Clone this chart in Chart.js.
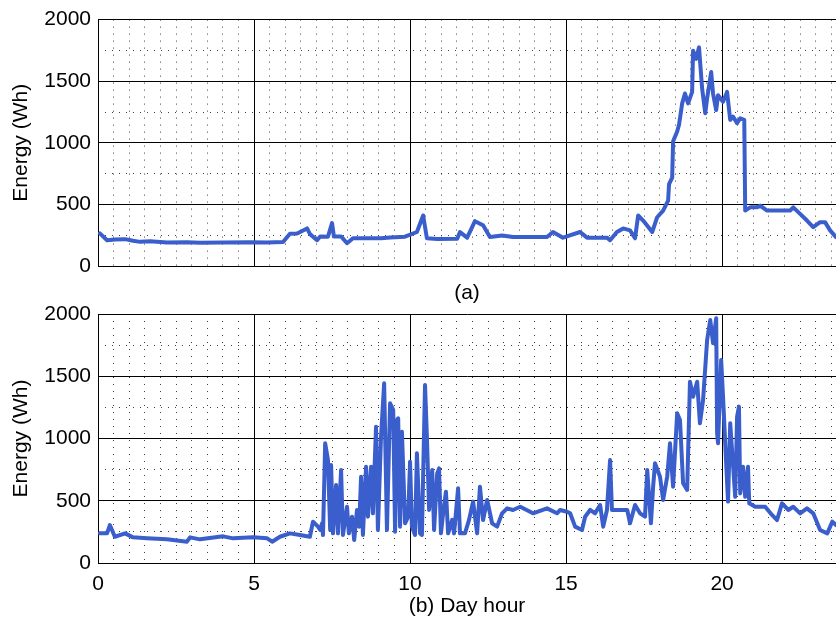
<!DOCTYPE html>
<html>
<head>
<meta charset="UTF-8">
<title>Energy per day hour</title>
<script src="https://cdn.jsdelivr.net/npm/chart.js@4.4.1/dist/chart.umd.min.js"></script>
<style>
  body { margin: 0; background: #fff; }
  #wrap { position: relative; width: 836px; height: 624px; overflow: hidden; }
  #wrap canvas { position: absolute; left: 0; }
</style>
</head>
<body>
<div id="wrap">
  <canvas id="chartA" width="836" height="310" style="top:0"></canvas>
  <canvas id="chartB" width="836" height="334" style="top:290px"></canvas>
</div>
<script>
// (a) hour of day / energy in Wh
var hoursA = [0.06, 0.29, 0.54, 0.87, 1.12, 1.35, 1.67, 2.21, 2.85, 3.27, 4.01, 4.87, 5.42, 5.93,
  6.15, 6.38, 6.70, 6.79, 7.02, 7.12, 7.37, 7.50, 7.56, 7.79, 7.98, 8.17, 9.07, 9.36, 9.84,
  10.22, 10.42, 10.54, 10.87, 11.51, 11.60, 11.83, 12.08, 12.34, 12.56, 12.95, 13.30, 14.39,
  14.58, 14.90, 15.45, 15.67, 16.31, 16.41, 16.63, 16.83, 17.05, 17.21, 17.31, 17.47, 17.76,
  17.92, 18.11, 18.27, 18.30, 18.40, 18.43, 18.56, 18.62, 18.72, 18.81, 18.91, 19.04, 19.07,
  19.17, 19.26, 19.36, 19.46, 19.52, 19.65, 19.71, 19.81, 19.87, 20.03, 20.16, 20.26, 20.35,
  20.48, 20.58, 20.71, 20.74, 20.90, 21.12, 21.22, 21.44, 22.18, 22.28, 22.50, 22.72, 22.92,
  23.14, 23.30, 23.46, 23.65];
var energyA = [265, 209, 215, 218, 205, 196, 200, 190, 192, 188, 190, 192, 190, 195,
  262, 263, 305, 260, 209, 240, 238, 348, 240, 240, 185, 225, 225, 232, 238,
  276, 410, 225, 220, 222, 275, 230, 364, 330, 235, 248, 235, 236,
  276, 230, 276, 230, 230, 209, 276, 305, 289, 225, 410, 369, 276,
  396, 450, 530, 664, 717, 1012, 1092, 1146, 1320, 1400, 1320, 1413, 1748,
  1681, 1775, 1440, 1240, 1360, 1574, 1400, 1266, 1386, 1333, 1413, 1186, 1213,
  1159, 1199, 1186, 450, 476, 476, 490, 450, 450, 476, 423, 369, 316,
  356, 356, 289, 235];

// (b)
var hoursB = [0.06, 0.29, 0.38, 0.54, 0.87, 1.12, 1.57, 2.21, 2.85, 2.95, 3.27, 4.01, 4.33, 4.97,
  5.42, 5.58, 5.83, 6.15, 6.47, 6.79, 6.89, 7.05, 7.12, 7.18, 7.21, 7.28, 7.37, 7.44, 7.47,
  7.53, 7.63, 7.69, 7.79, 7.85, 7.98, 8.04, 8.14, 8.21, 8.30, 8.37, 8.43, 8.49, 8.59, 8.65,
  8.75, 8.81, 8.91, 8.97, 9.07, 9.17, 9.26, 9.36, 9.46, 9.52, 9.58, 9.62, 9.68, 9.74, 9.84,
  9.94, 10.00, 10.06, 10.16, 10.22, 10.32, 10.38, 10.48, 10.54, 10.61, 10.71, 10.77, 10.87,
  10.93, 10.99, 11.06, 11.15, 11.22, 11.35, 11.41, 11.54, 11.60, 11.76, 11.89, 12.02, 12.15,
  12.24, 12.34, 12.47, 12.63, 12.79, 12.95, 13.11, 13.30, 13.53, 13.94, 14.39, 14.71, 14.81,
  15.03, 15.13, 15.29, 15.51, 15.61, 15.77, 15.93, 16.09, 16.19, 16.31, 16.41, 16.47, 16.63,
  16.96, 17.05, 17.21, 17.37, 17.53, 17.60, 17.72, 17.79, 17.85, 18.01, 18.11, 18.24, 18.33,
  18.43, 18.56, 18.65, 18.75, 18.88, 18.97, 19.07, 19.20, 19.29, 19.39, 19.52, 19.62, 19.71,
  19.81, 19.84, 19.87, 19.97, 20.03, 20.10, 20.19, 20.26, 20.42, 20.48, 20.54, 20.58, 20.67,
  20.74, 20.83, 20.87, 21.06, 21.38, 21.60, 21.76, 21.92, 22.12, 22.28, 22.50, 22.72, 22.92,
  23.14, 23.37, 23.53, 23.65];
var energyB = [238, 238, 305, 211, 238, 206, 198, 190, 171, 206, 190, 214, 198, 206,
  198, 171, 211, 238, 225, 211, 332, 292, 265, 319, 225, 961, 827, 265, 787,
  238, 627, 238, 747, 225, 452, 238, 372, 185, 426, 292, 693, 225, 773, 372,
  773, 399, 1095, 265, 1015, 1443, 265, 1283, 1230, 252, 1149, 1162, 292, 1055, 319,
  372, 814, 292, 225, 881, 238, 225, 1430, 1015, 426, 747, 265, 720,
  760, 238, 399, 573, 238, 346, 238, 600, 238, 238, 346, 493, 238,
  613, 345, 506, 319, 292, 399, 439, 426, 452, 399, 439, 399, 426,
  412, 399, 292, 265, 372, 426, 399, 466, 292, 426, 827, 426, 426,
  426, 319, 466, 399, 372, 747, 319, 613, 801, 693, 506, 693, 961,
  613, 1202, 1149, 640, 587, 1456, 1336, 1456, 1122, 1309, 1791, 1952, 1765,
  1965, 1044, 961, 1631, 1336, 961, 493, 1122, 532, 1175, 1256, 559, 774,
  532, 774, 479, 452, 452, 386, 345, 479, 426, 452, 399, 439, 399,
  265, 238, 332, 305];

var xMax = 23.65;
var font = { family: "'Liberation Sans', Arial, sans-serif", size: 21 };
var lineColor = '#3a5ecc';

function plainTick(v) { return String(v); }

function makeChart(id, hours, energy, opts) {
  var points = hours.map(function (h, i) { return { x: h, y: energy[i] }; });
  return new Chart(document.getElementById(id), {
    type: 'line',
    data: {
      datasets: [{
        data: points,
        borderColor: lineColor,
        borderWidth: 4,
        borderJoinStyle: 'round',
        borderCapStyle: 'round',
        pointRadius: 0,
        tension: 0,
        fill: false
      }]
    },
    options: {
      responsive: false,
      animation: false,
      devicePixelRatio: 1,
      layout: { padding: { top: opts.top, left: 0, right: 0, bottom: 0 } },
      plugins: { legend: { display: false }, tooltip: { enabled: false } },
      scales: {
        // dotted minor grid
        xm: {
          type: 'linear', position: 'bottom', min: 0, max: xMax,
          ticks: { display: false, stepSize: 0.5, includeBounds: false },
          grid: { color: 'rgba(0,0,0,0.75)', lineWidth: 1, drawTicks: false },
          border: { display: false, dash: [1, 6] },
          afterFit: function (s) { s.height = 0; }
        },
        ym: {
          type: 'linear', position: 'left', min: 0, max: 2000,
          ticks: { display: false, stepSize: 250 },
          grid: { color: 'rgba(0,0,0,0.75)', lineWidth: 1, drawTicks: false },
          border: { display: false, dash: [1, 6] },
          afterFit: function (s) { s.width = 0; }
        },
        x: {
          type: 'linear', position: 'bottom', min: 0, max: xMax,
          ticks: {
            display: opts.xTicks, stepSize: 5, includeBounds: false, autoSkip: false,
            color: '#000', font: font, padding: 9, maxRotation: 0, callback: plainTick
          },
          grid: { color: '#000', lineWidth: 1, drawTicks: false },
          border: { display: true, color: '#000', width: 1 },
          title: { display: true, text: opts.xTitle, color: '#000', font: font, padding: { top: 0, bottom: opts.titlePad } },
          afterFit: function (s) { s.height = opts.xHeight; }
        },
        y: {
          type: 'linear', position: 'left', min: 0, max: 2000,
          ticks: { stepSize: 500, color: '#000', font: font, padding: 7, callback: plainTick },
          grid: { color: '#000', lineWidth: 1, drawTicks: false },
          border: { display: true, color: '#000', width: 1 },
          title: { display: true, text: 'Energy (Wh)', color: '#000', font: font, padding: { top: 9, bottom: 0 } },
          afterFit: function (s) { s.width = 98; }
        }
      }
    }
  });
}

makeChart('chartA', hoursA, energyA, { top: 17, xTicks: false, xTitle: '(a)', xHeight: 44, titlePad: 4 });
makeChart('chartB', hoursB, energyB, { top: 24, xTicks: true, xTitle: '(b) Day hour', xHeight: 61, titlePad: 5 });
</script>
</body>
</html>
